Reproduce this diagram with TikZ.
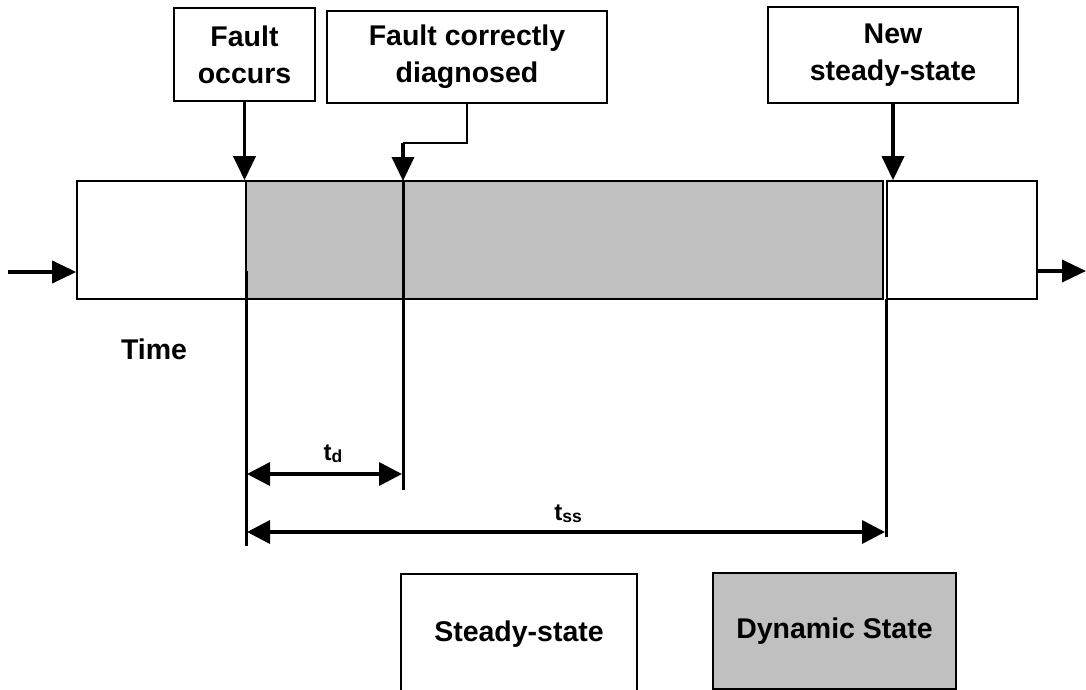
\documentclass[tikz,border=0pt]{standalone}
\usepackage{fontspec}
\setmainfont{Liberation Sans}
\usetikzlibrary{arrows.meta}
\definecolor{dyngray}{RGB}{192,192,192}
\tikzset{
  lbl/.style={font=\fontsize{28.5}{37}\selectfont\bfseries, inner sep=0pt},
  box/.style={lbl, draw, line width=1.6pt, align=center},
  bandbox/.style={draw, line width=1.6pt, inner sep=0pt},
  bigarrow/.style={line width=3.6pt, -{Triangle[length=24pt,width=22pt]}},
  elbow/.style={line width=1.8pt},
  marker/.style={line width=3pt},
  dimarrow/.style={line width=3.6pt, {Triangle[length=23pt,width=23pt]}-{Triangle[length=23pt,width=23pt]}},
  tlabel/.style={font=\fontsize{24}{24}\selectfont\bfseries, inner sep=0pt, anchor=base}
}
\newcommand{\subsc}[1]{\raisebox{-2.5pt}{\fontsize{17.5}{17.5}\selectfont #1}}
\begin{document}
\begin{tikzpicture}[x=1pt,y=-1pt]
\useasboundingbox (0,0) rectangle (1086,690);

% event boxes along the top
\node[box, minimum width=141pt, minimum height=93pt] (fo)  at (244.5,54.5) {Fault\\occurs};
\node[box, minimum width=280pt, minimum height=92pt] (fcd) at (467,57) {Fault correctly\\diagnosed};
\node[box, minimum width=250pt, minimum height=96pt] (nss) at (893,55) {New\\steady-state};

% time band: steady / dynamic / steady
\node[bandbox, minimum width=169pt, minimum height=118pt] (lw)  at (161.5,240) {};
\node[bandbox, fill=dyngray, minimum width=637pt, minimum height=118pt] (dyn) at (564.5,240) {};
\node[bandbox, minimum width=150pt, minimum height=118pt] (rw)  at (962,240) {};

% arrows into the band
\draw[bigarrow] (fo.south) -- (fo.south |- lw.north);
\coordinate (elb) at (403,143);
\coordinate (dg) at (403,181);
\draw[elbow] (fcd.south) |- (elb);
\draw[bigarrow] (elb) -- (dg);
\draw[bigarrow] (nss.south) -- (nss.south |- rw.north);

% time axis in and out
\coordinate (tin) at (8,272);
\coordinate (tout) at (1086,271);
\draw[bigarrow] (tin) -- (tin -| lw.west);
\draw[bigarrow] (tout -| rw.east) -- (tout);

\node[lbl] (time) at (154,349) {Time};

% marker lines for the intervals
\coordinate (m1a) at (246,271);
\coordinate (m1b) at (246,546);
\coordinate (m2b) at (403,490);
\coordinate (m3a) at (886,299);
\coordinate (m3b) at (886,537);
\draw[marker] (m1a) -- (m1b);
\draw[marker] (dg) -- (m2b);
\draw[marker] (m3a) -- (m3b);

% interval dimensions
\coordinate (tda) at (247,474);
\coordinate (tdb) at (402,474);
\coordinate (tsa) at (247,532);
\coordinate (tsb) at (885,532);
\draw[dimarrow] (tda) -- (tdb);
\draw[dimarrow] (tsa) -- (tsb);
\node[tlabel] (td)  at (333,460) {t\subsc{d}};
\node[tlabel] (tss) at (568,520) {t\subsc{ss}};

% legend
\node[box, minimum width=236pt, minimum height=120pt] (lss) at (519,634) {Steady-state};
\node[box, fill=dyngray, minimum width=243pt, minimum height=116pt] (lds) at (834.5,631) {Dynamic State};
\end{tikzpicture}
\end{document}
